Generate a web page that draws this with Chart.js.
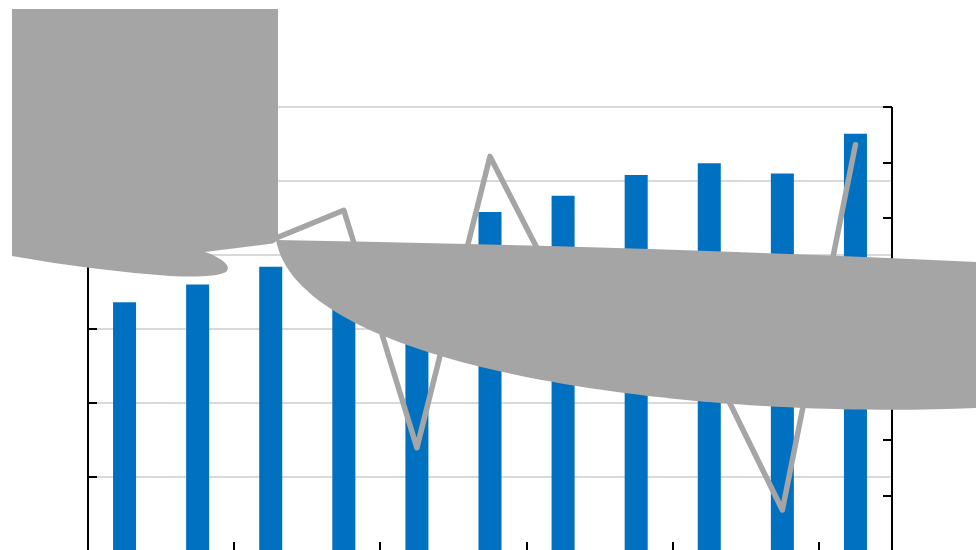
<!DOCTYPE html>
<html lang="en">

<head>
  <meta charset="UTF-8">
  <title>Bars and Line</title>
  <script src="https://cdn.jsdelivr.net/npm/chart.js"></script>
  <style>
    html, body {
      margin: 0;
      padding: 0;
      background: white;
      overflow: hidden;
    }

    .chart-container {
      width: 976px;
      height: 560px;
      position: relative;
    }
  </style>
</head>

<body>
  <div class="chart-container">
    <canvas id="comboChart"></canvas>
  </div>

  <script>
    // data (no labels are visible, so categories are just numbered)
    const categories = ['1', '2', '3', '4', '5', '6', '7', '8', '9', '10', '11'];
    const barValues = [168, 180, 192, 200, 205, 229, 240, 254, 262, 255, 282];
    const lineValues = [60, 58, 56, 61.4, 18.6, 71.1, 45.4, 40, 34.2, 7.4, 73.2];
    const leftAxis = { min: 0, max: 300, step: 50 };
    const rightAxis = { min: 0, max: 80, step: 10 };

    const GREY = '#a5a5a5';

    // axis lines with inward ticks, like the original
    const axesPlugin = {
      id: 'axes',
      afterDatasetsDraw(chart) {
        const { ctx, chartArea } = chart;
        const x = chart.scales.x;
        const y = chart.scales.y;
        const y1 = chart.scales.y1;
        const tick = 9;
        ctx.save();
        ctx.strokeStyle = '#000';
        ctx.lineWidth = 2;
        ctx.beginPath();
        // left
        ctx.moveTo(chartArea.left, chartArea.top);
        ctx.lineTo(chartArea.left, chartArea.bottom);
        for (let v = leftAxis.min; v <= leftAxis.max; v += leftAxis.step) {
          const py = Math.round(y.getPixelForValue(v));
          ctx.moveTo(chartArea.left, py);
          ctx.lineTo(chartArea.left + tick, py);
        }
        // right
        ctx.moveTo(chartArea.right, chartArea.top);
        ctx.lineTo(chartArea.right, chartArea.bottom);
        for (let v = rightAxis.min; v <= rightAxis.max; v += rightAxis.step) {
          const py = Math.round(y1.getPixelForValue(v));
          ctx.moveTo(chartArea.right, py);
          ctx.lineTo(chartArea.right - tick, py);
        }
        // bottom, tick every second category boundary
        ctx.moveTo(chartArea.left, chartArea.bottom);
        ctx.lineTo(chartArea.right, chartArea.bottom);
        const half = (x.getPixelForValue(1) - x.getPixelForValue(0)) / 2;
        for (let i = 2; i < categories.length; i += 2) {
          const px = Math.round(x.getPixelForValue(i) - half);
          ctx.moveTo(px, chartArea.bottom);
          ctx.lineTo(px, chartArea.bottom - tick);
        }
        ctx.stroke();
        ctx.restore();
      }
    };

    // the two grey callout shapes lying over the plot
    const shapesPlugin = {
      id: 'shapes',
      afterDraw(chart) {
        const ctx = chart.ctx;
        ctx.save();
        ctx.fillStyle = GREY;

        ctx.beginPath();
        ctx.moveTo(12, 9);
        ctx.lineTo(278, 9);
        ctx.lineTo(278, 236);
        ctx.quadraticCurveTo(277, 244, 269, 244);
        ctx.lineTo(205, 252);
        ctx.bezierCurveTo(220, 257, 233, 266, 226, 272);
        ctx.quadraticCurveTo(215, 278, 170, 276);
        ctx.quadraticCurveTo(90, 270, 12, 256);
        ctx.closePath();
        ctx.fill();

        ctx.beginPath();
        ctx.moveTo(276, 240);
        ctx.quadraticCurveTo(640, 246, 976, 262);
        ctx.lineTo(976, 408);
        ctx.bezierCurveTo(700, 420, 300, 372, 276, 240);
        ctx.closePath();
        ctx.fill();

        ctx.restore();
      }
    };

    const ctx = document.getElementById('comboChart').getContext('2d');

    new Chart(ctx, {
      type: 'bar',
      data: {
        labels: categories,
        datasets: [
          {
            type: 'line',
            data: lineValues,
            yAxisID: 'y1',
            borderColor: GREY,
            borderWidth: 5.5,
            borderCapStyle: 'round',
            borderJoinStyle: 'round',
            pointRadius: 0,
            tension: 0,
            order: 1
          },
          {
            data: barValues,
            yAxisID: 'y',
            backgroundColor: '#0070c0',
            barPercentage: 0.315,
            categoryPercentage: 1,
            order: 2
          }
        ]
      },
      options: {
        responsive: true,
        maintainAspectRatio: false,
        animation: false,
        layout: {
          padding: { left: 88, right: 84, top: 107, bottom: 9 }
        },
        scales: {
          x: {
            display: false
          },
          y: {
            min: leftAxis.min,
            max: leftAxis.max,
            ticks: { display: false, stepSize: leftAxis.step },
            border: { display: false },
            grid: { color: '#d9d9d9', lineWidth: 2, drawTicks: false }
          },
          y1: {
            position: 'right',
            display: false,
            min: rightAxis.min,
            max: rightAxis.max,
            ticks: { stepSize: rightAxis.step }
          }
        },
        plugins: {
          legend: { display: false },
          tooltip: { enabled: false }
        }
      },
      plugins: [axesPlugin, shapesPlugin]
    });
  </script>
</body>

</html>
